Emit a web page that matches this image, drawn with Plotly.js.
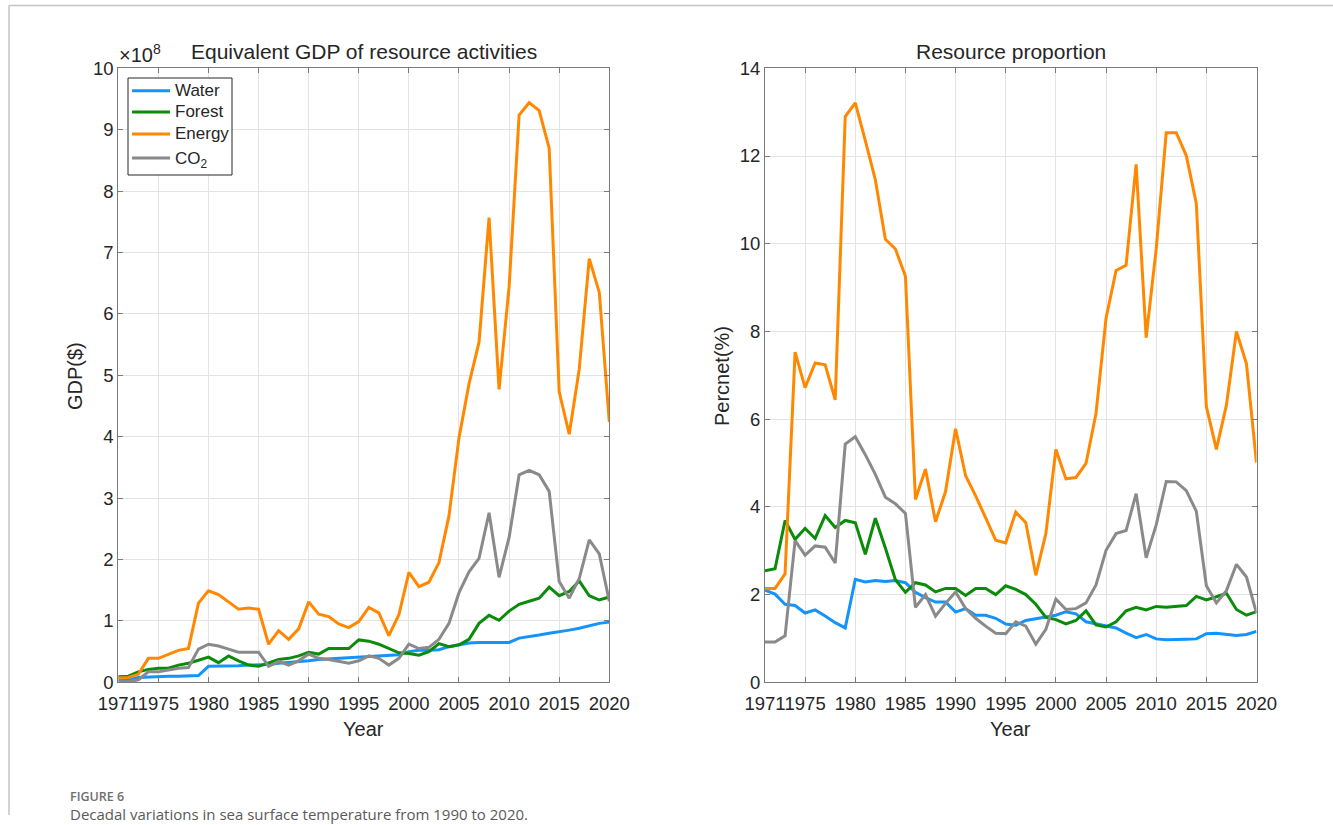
<!DOCTYPE html>
<html>
<head>
<meta charset="utf-8">
<script src="https://cdn.plot.ly/plotly-3.0.1.min.js"></script>
<style>
  html, body { margin: 0; padding: 0; background: #fff; }
  #chart { width: 1333px; height: 825px; }
</style>
</head>
<body>
<div id="chart"></div>
<script>
// Years 1971–2020
const years = [];
for (let y = 1971; y <= 2020; y++) years.push(y);

// Equivalent GDP of resource activities (units of 1e8 $)
const gdpWater = [0.04,0.04,0.08,0.09,0.09,0.10,0.10,0.11,0.11,0.26,
  0.26,0.27,0.27,0.28,0.28,0.29,0.31,0.32,0.34,0.35,
  0.37,0.38,0.39,0.39,0.40,0.41,0.42,0.43,0.45,0.50,
  0.52,0.52,0.53,0.58,0.61,0.64,0.65,0.65,0.66,0.65,
  0.72,0.74,0.77,0.80,0.82,0.85,0.88,0.92,0.96,0.98];
const gdpForest = [0.09,0.10,0.17,0.21,0.23,0.23,0.28,0.31,0.36,0.41,
  0.32,0.43,0.35,0.28,0.26,0.32,0.37,0.39,0.43,0.49,
  0.46,0.55,0.55,0.55,0.69,0.67,0.62,0.55,0.48,0.47,
  0.44,0.50,0.63,0.58,0.61,0.70,0.96,1.09,1.01,1.16,
  1.27,1.32,1.37,1.55,1.41,1.48,1.65,1.41,1.34,1.39];
const gdpEnergy = [0.07,0.08,0.13,0.39,0.39,0.46,0.52,0.55,1.29,1.49,
  1.43,1.31,1.19,1.21,1.19,0.62,0.84,0.70,0.87,1.31,
  1.11,1.07,0.95,0.89,0.99,1.22,1.13,0.76,1.10,1.79,
  1.56,1.63,1.95,2.71,3.98,4.86,5.54,7.57,4.77,6.44,
  9.24,9.44,9.31,8.70,4.73,4.04,5.10,6.90,6.35,4.24];
const gdpCO2 = [0.01,0.01,0.04,0.17,0.17,0.20,0.23,0.24,0.54,0.62,
  0.59,0.54,0.49,0.49,0.49,0.26,0.34,0.28,0.35,0.46,
  0.39,0.37,0.34,0.31,0.35,0.43,0.39,0.28,0.39,0.62,
  0.55,0.57,0.70,0.96,1.46,1.80,2.02,2.76,1.71,2.36,
  3.38,3.45,3.38,3.11,1.64,1.37,1.69,2.32,2.09,1.32];

// Resource proportion (%)
const pctWater = [2.10,2.01,1.78,1.75,1.58,1.65,1.51,1.36,1.24,2.35,
  2.29,2.32,2.30,2.32,2.27,2.05,1.93,1.83,1.83,1.60,
  1.68,1.53,1.53,1.46,1.33,1.30,1.41,1.45,1.48,1.53,
  1.61,1.56,1.38,1.33,1.28,1.24,1.12,1.02,1.09,0.99,
  0.97,0.97,0.98,0.99,1.11,1.12,1.09,1.07,1.09,1.16];
const pctForest = [2.54,2.59,3.69,3.26,3.51,3.28,3.80,3.53,3.69,3.64,
  2.92,3.74,3.06,2.34,2.05,2.27,2.22,2.06,2.14,2.14,
  1.98,2.14,2.14,2.00,2.20,2.12,2.00,1.78,1.48,1.43,
  1.33,1.41,1.63,1.31,1.26,1.38,1.63,1.71,1.65,1.73,
  1.71,1.73,1.75,1.96,1.88,1.95,2.03,1.66,1.53,1.61];
const pctEnergy = [2.14,2.14,2.47,7.53,6.72,7.28,7.24,6.44,12.90,13.21,
  12.35,11.46,10.10,9.88,9.26,4.17,4.86,3.66,4.35,5.78,
  4.71,4.25,3.75,3.24,3.18,3.88,3.64,2.44,3.39,5.31,
  4.64,4.67,4.99,6.13,8.30,9.39,9.51,11.81,7.86,9.88,
  12.53,12.53,12.01,10.92,6.29,5.31,6.32,8.00,7.26,5.01];
const pctCO2 = [0.92,0.92,1.06,3.23,2.90,3.11,3.08,2.72,5.43,5.60,
  5.19,4.74,4.22,4.07,3.85,1.71,2.00,1.51,1.80,2.06,
  1.68,1.46,1.28,1.12,1.11,1.38,1.28,0.87,1.21,1.90,
  1.66,1.68,1.81,2.22,3.01,3.39,3.46,4.30,2.84,3.59,
  4.58,4.57,4.37,3.90,2.20,1.81,2.09,2.69,2.40,1.58];

const seriesNames = ['Water', 'Forest', 'Energy', 'CO<sub>2</sub>'];
const seriesColors = ['#1493fa', '#0a8c0a', '#ff8800', '#8a8a8a'];
const xTicks = [1971, 1975, 1980, 1985, 1990, 1995, 2000, 2005, 2010, 2015, 2020];

const W = 1333, H = 825;
const px = v => v / W;          // horizontal pixel -> paper
const py = v => 1 - v / H;      // vertical pixel (from top) -> paper

const FONT = 'Liberation Sans, Arial, sans-serif';
const tickFont = { family: FONT, size: 18.5, color: '#262626' };
const labelFont = { family: FONT, size: 20, color: '#262626' };
const titleFont = { family: FONT, size: 21, color: '#262626' };

const leftSets = [gdpWater, gdpForest, gdpEnergy, gdpCO2];
const rightSets = [pctWater, pctForest, pctEnergy, pctCO2];

const traces = [];
leftSets.forEach((vals, i) => {
  traces.push({
    x: years, y: vals, type: 'scatter', mode: 'lines',
    name: seriesNames[i], line: { color: seriesColors[i], width: 3 },
    xaxis: 'x', yaxis: 'y'
  });
});
rightSets.forEach((vals, i) => {
  traces.push({
    x: years, y: vals, type: 'scatter', mode: 'lines',
    name: seriesNames[i], line: { color: seriesColors[i], width: 3 },
    xaxis: 'x2', yaxis: 'y2'
  });
});

const axisBase = {
  showline: true, linecolor: '#7a7a7a', linewidth: 1, mirror: 'ticks',
  ticks: 'inside', ticklen: 5, tickcolor: '#7a7a7a', tickwidth: 1,
  showgrid: true, gridcolor: '#e3e3e3', gridwidth: 1,
  zeroline: false, automargin: false, tickfont: tickFont
};

const xAxis = (domain, anchor) => Object.assign({}, axisBase, {
  domain: domain, anchor: anchor, range: [1971, 2020],
  tickmode: 'array', tickvals: xTicks, ticktext: xTicks.map(String), tickangle: 0,
  ticklabelstandoff: 4
});

const yDomain = [py(682.3), py(68.3)];

// Boxed legend in the upper-left corner of the GDP panel
const legendBox = { x0: 128, y0: 78, x1: 232, y1: 175 };
const legendRows = [90.7, 112, 134, 158];
const legendShapes = [{
  type: 'rect', xref: 'paper', yref: 'paper', layer: 'above',
  x0: px(legendBox.x0), x1: px(legendBox.x1), y0: py(legendBox.y0), y1: py(legendBox.y1),
  line: { color: '#262626', width: 1 }, fillcolor: '#ffffff'
}];
const legendTexts = [];
seriesNames.forEach((name, i) => {
  legendShapes.push({
    type: 'line', xref: 'paper', yref: 'paper', layer: 'above',
    x0: px(132), x1: px(170), y0: py(legendRows[i]), y1: py(legendRows[i]),
    line: { color: seriesColors[i], width: 3 }
  });
  legendTexts.push({
    text: name, xref: 'paper', yref: 'paper', x: px(173), y: py(legendRows[i] + (i === 3 ? 2 : 0)),
    xanchor: 'left', yanchor: 'middle', showarrow: false,
    font: { family: FONT, size: 17, color: '#262626' }
  });
});

const layout = {
  width: W, height: H,
  margin: { l: 0, r: 0, t: 0, b: 0 },
  paper_bgcolor: '#ffffff', plot_bgcolor: '#ffffff',
  showlegend: false,
  xaxis: xAxis([px(118.3), px(609.3)], 'y'),
  yaxis: Object.assign({}, axisBase, {
    domain: yDomain, anchor: 'x', range: [0, 10], dtick: 1, tick0: 0
  }),
  xaxis2: xAxis([px(765), px(1256.5)], 'y2'),
  yaxis2: Object.assign({}, axisBase, {
    domain: yDomain, anchor: 'x2', range: [0, 14], dtick: 2, tick0: 0
  }),
  annotations: [
    { text: 'Equivalent GDP of resource activities', xref: 'paper', yref: 'paper',
      x: px(363.8), y: py(52), xanchor: 'center', yanchor: 'middle', showarrow: false,
      font: titleFont },
    { text: 'Resource proportion', xref: 'paper', yref: 'paper',
      x: px(1010.8), y: py(52), xanchor: 'center', yanchor: 'middle', showarrow: false,
      font: titleFont },
    { text: '×10<sup>8</sup>', xref: 'paper', yref: 'paper',
      x: px(117), y: py(68), xanchor: 'left', yanchor: 'bottom', showarrow: false,
      font: { family: FONT, size: 20, color: '#262626' } },
    { text: 'Year', xref: 'paper', yref: 'paper',
      x: px(363.8), y: py(729), xanchor: 'center', yanchor: 'middle', showarrow: false,
      font: labelFont },
    { text: 'Year', xref: 'paper', yref: 'paper',
      x: px(1010.8), y: py(729), xanchor: 'center', yanchor: 'middle', showarrow: false,
      font: labelFont },
    { text: 'GDP($)', xref: 'paper', yref: 'paper', textangle: -90,
      x: px(75), y: py(376), xanchor: 'center', yanchor: 'middle', showarrow: false,
      font: labelFont },
    { text: 'Percnet(%)', xref: 'paper', yref: 'paper', textangle: -90,
      x: px(722), y: py(376), xanchor: 'center', yanchor: 'middle', showarrow: false,
      font: labelFont },
    { text: 'FIGURE 6', xref: 'paper', yref: 'paper',
      x: px(68), y: py(796), xanchor: 'left', yanchor: 'middle', showarrow: false,
      font: { family: 'Open Sans, Noto Sans, sans-serif', size: 12.5, color: '#6e6e6e', weight: 600 } },
    { text: 'Decadal variations in sea surface temperature from 1990 to 2020.', xref: 'paper', yref: 'paper',
      x: px(68), y: py(814), xanchor: 'left', yanchor: 'middle', showarrow: false,
      font: { family: 'Open Sans, Noto Sans, sans-serif', size: 15, color: '#5a5a5a' } }
  ].concat(legendTexts),
  shapes: [
    { type: 'line', xref: 'paper', yref: 'paper', x0: px(9), x1: 1, y0: py(5.5), y1: py(5.5),
      line: { color: '#c4c4c4', width: 1.5 } },
    { type: 'line', xref: 'paper', yref: 'paper', x0: px(9), x1: px(9), y0: py(5.5), y1: py(815),
      line: { color: '#c4c4c4', width: 1.5 } }
  ].concat(legendShapes)
};

Plotly.newPlot('chart', traces, layout, { displayModeBar: false, staticPlot: true });
</script>
</body>
</html>
